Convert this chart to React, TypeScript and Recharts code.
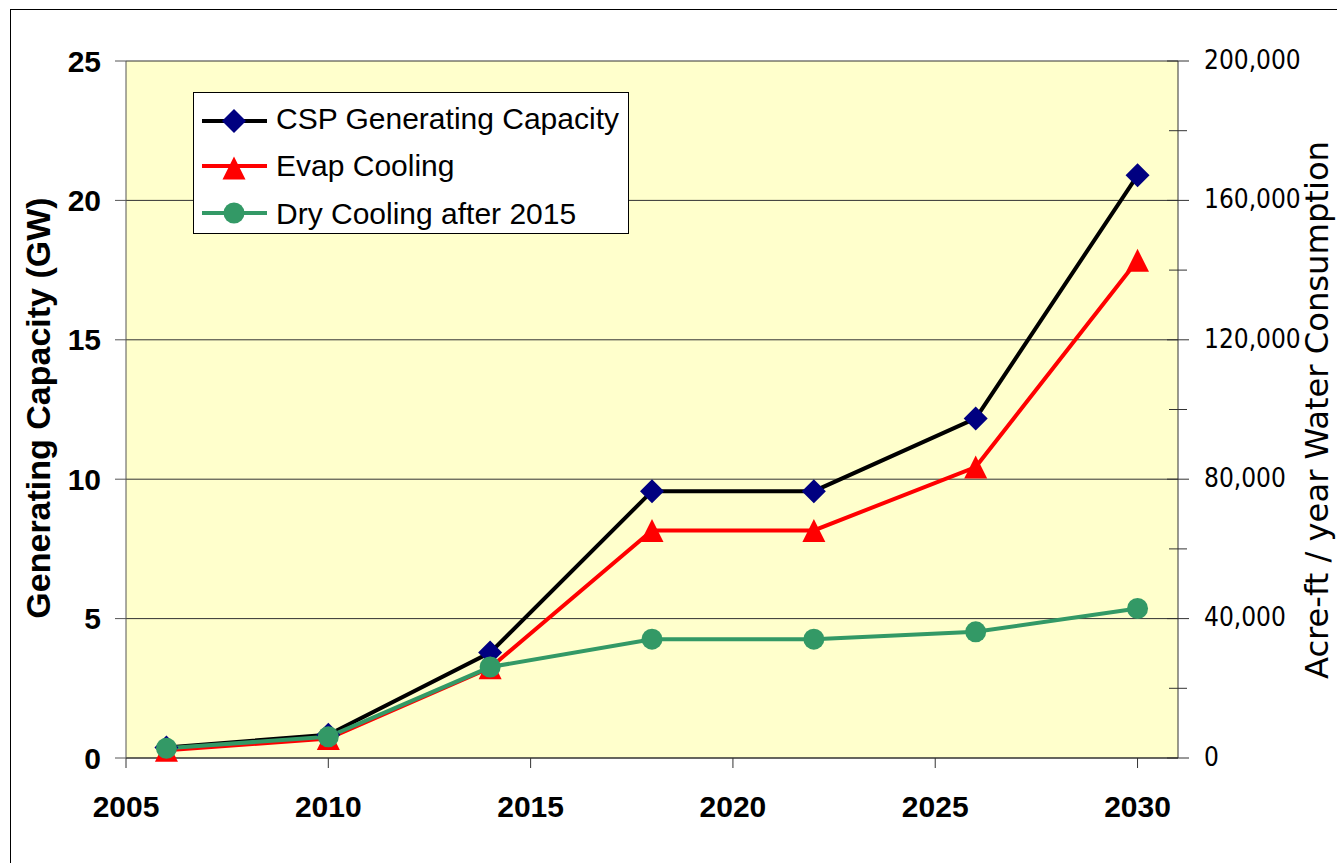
import { type JSX } from 'react'
import { CartesianGrid, Legend, Line, LineChart, XAxis, YAxis } from 'recharts'

// values
const years = [2006, 2010, 2014, 2018, 2022, 2026, 2030]
const cspCapacityGW = [0.38, 0.83, 3.78, 9.57, 9.57, 12.18, 20.9]
const evapCoolingAcreFt = [2200, 5600, 25900, 65300, 65300, 83500, 142800]
const dryCoolingAcreFt = [2800, 6100, 26100, 34100, 34100, 36200, 42900]

const xTicks = [2005, 2010, 2015, 2020, 2025, 2030]
const leftTicks = [0, 5, 10, 15, 20, 25]
const rightTicks = [0, 20000, 40000, 60000, 80000, 100000, 120000, 140000, 160000, 180000, 200000]

const SERIES = [
  { key: 'csp', name: 'CSP Generating Capacity', line: '#000000', marker: '#000080', shape: 'diamond', axis: 'left' },
  { key: 'evap', name: 'Evap Cooling', line: '#FF0000', marker: '#FF0000', shape: 'triangle', axis: 'right' },
  { key: 'dry', name: 'Dry Cooling after 2015', line: '#339966', marker: '#339966', shape: 'circle', axis: 'right' },
] as const

const data = years.map((year, i) => ({
  year,
  csp: cspCapacityGW[i],
  evap: evapCoolingAcreFt[i],
  dry: dryCoolingAcreFt[i],
}))

const ARIAL = '"Liberation Sans", Arial, sans-serif'
const CONDENSED = '"DejaVu Sans Condensed", "DejaVu Sans", sans-serif'

function Marker({ shape, cx, cy, color }: { shape: string; cx: number; cy: number; color: string }) {
  if (shape === 'diamond') {
    const r = 12
    return <polygon points={`${cx},${cy - r} ${cx + r},${cy} ${cx},${cy + r} ${cx - r},${cy}`} fill={color} />
  }
  if (shape === 'triangle') {
    const h = 23
    const w = 23
    return (
      <polygon
        points={`${cx},${cy - h / 2} ${cx + w / 2},${cy + h / 2} ${cx - w / 2},${cy + h / 2}`}
        fill={color}
      />
    )
  }
  return <circle cx={cx} cy={cy} r={10.5} fill={color} />
}

function LegendBox(): JSX.Element {
  const rows = [
    { line: 28, text: 36 },
    { line: 73, text: 83 },
    { line: 120, text: 131 },
  ]
  return (
    <div
      style={{
        width: 436,
        height: 142,
        background: '#fff',
        border: '1px solid #000',
        boxSizing: 'border-box',
      }}
    >
      <svg width={434} height={140} style={{ display: 'block' }}>
        {SERIES.map((s, i) => (
          <g key={s.key}>
            <line x1={8} x2={73} y1={rows[i].line} y2={rows[i].line} stroke={s.line} strokeWidth={4} />
            <Marker shape={s.shape} cx={40} cy={s.shape === 'triangle' ? rows[i].line + 2 : rows[i].line} color={s.marker} />
            <text x={82} y={rows[i].text} fontFamily={ARIAL} fontSize={30} fill="#000">
              {s.name}
            </text>
          </g>
        ))}
      </svg>
    </div>
  )
}

function RightTick(props: any): JSX.Element {
  const { x, y, payload } = props
  const v = payload.value as number
  const axisX = x - 26
  const major = v % 40000 === 0
  return (
    <g>
      <line
        x1={axisX - (major ? 11 : 9)}
        x2={axisX + (major ? 11 : 9)}
        y1={y}
        y2={y}
        stroke="#333"
        strokeWidth={1}
      />
      {major && (
        <text x={x} y={y} dy="0.3em" textAnchor="start" fontFamily={CONDENSED} fontSize={26} fill="#000">
          {v.toLocaleString('en-US')}
        </text>
      )}
    </g>
  )
}

export default function App(): JSX.Element {
  return (
    <div style={{ position: 'absolute', left: 0, top: 0, width: 1337, height: 863, overflow: 'hidden', background: '#fff' }}>
      <div
        style={{
          position: 'absolute',
          left: 10,
          top: 9,
          width: 1327,
          height: 854,
          borderTop: '1px solid #000',
          borderLeft: '1px solid #000',
        }}
      />
      <LineChart width={1337} height={863} data={data} margin={{ top: 61, right: 0, bottom: 0, left: 0 }}>
        <CartesianGrid
          vertical={false}
          yAxisId="left"
          stroke="#333"
          fill="#FFFFCC"
          fillOpacity={1}
        />
        <XAxis
          dataKey="year"
          type="number"
          domain={[2005, 2031]}
          ticks={xTicks}
          allowDataOverflow
          height={105}
          stroke="#333"
          tickSize={10}
          tickMargin={28}
          tick={{ fontFamily: ARIAL, fontSize: 30, fontWeight: 'bold', fill: '#000' }}
        />
        <YAxis
          yAxisId="left"
          orientation="left"
          domain={[0, 25]}
          ticks={leftTicks}
          width={126}
          stroke="#555"
          tickSize={11}
          tickMargin={14}
          tick={{ fontFamily: ARIAL, fontSize: 30, fontWeight: 'bold', fill: '#000' }}
          label={{
            content: () => (
              <text
                x={50}
                y={408}
                transform="rotate(-90 50 408)"
                textAnchor="middle"
                fontFamily={ARIAL}
                fontSize={34}
                fontWeight="bold"
                fill="#000"
              >
                Generating Capacity (GW)
              </text>
            ),
          }}
        />
        <YAxis
          yAxisId="right"
          orientation="right"
          domain={[0, 200000]}
          ticks={rightTicks}
          width={159}
          stroke="#333"
          tickSize={0}
          tickMargin={26}
          tickLine={false}
          tick={RightTick}
          label={{
            content: () => (
              <text
                x={1328}
                y={410}
                transform="rotate(-90 1328 410)"
                textAnchor="middle"
                fontFamily={CONDENSED}
                fontSize={32}
                textLength={538}
                lengthAdjust="spacingAndGlyphs"
                fill="#000"
              >
                Acre-ft / year Water Consumption
              </text>
            ),
          }}
        />
        <Legend
          layout="horizontal"
          verticalAlign="middle"
          align="center"
          wrapperStyle={{ position: 'absolute', left: 193, top: 92, width: 436, height: 142 }}
          content={() => <LegendBox />}
        />
        {SERIES.map((s) => (
          <Line
            key={s.key}
            yAxisId={s.axis}
            type="linear"
            dataKey={s.key}
            name={s.name}
            stroke={s.line}
            strokeWidth={4}
            isAnimationActive={false}
            activeDot={false}
            dot={(p: any) => (
              <Marker key={`${s.key}-${p.index}`} shape={s.shape} cx={p.cx} cy={p.cy} color={s.marker} />
            )}
          />
        ))}
      </LineChart>
    </div>
  )
}
